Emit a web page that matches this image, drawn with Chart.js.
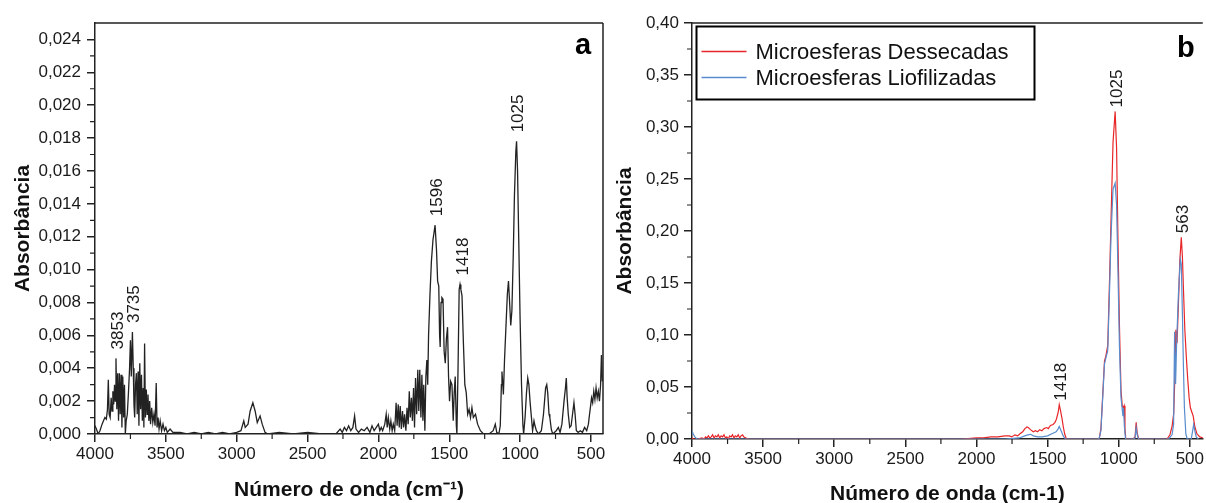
<!DOCTYPE html>
<html>
<head>
<meta charset="utf-8">
<script src="https://cdn.jsdelivr.net/npm/chart.js@4.4.1/dist/chart.umd.min.js"></script>
<style>
  html, body { margin: 0; padding: 0; background: #fff; }
  body { width: 1206px; height: 503px; position: relative; overflow: hidden; }
  #chartA { position: absolute; left: 0; top: 0; }
  #chartB { position: absolute; left: 605px; top: 0; }
</style>
</head>
<body>
<canvas id="chartA" width="615" height="503"></canvas>
<canvas id="chartB" width="601" height="503"></canvas>
<script>
// ---- data ----
// panel a: wavenumber (cm-1), absorbance
const spectrumA = [
  [4000,0.0005],[3990,0.0003],[3978,0],[3965,0.0002],[3950,0.0006],[3940,0.0008],[3930,0.0010],[3920,0.0009],
  [3912,0.0015],[3906,0.0033],[3900,0.0012],[3893,0.0010],[3886,0.0022],[3880,0.0014],[3874,0.0026],[3868,0.0018],
  [3862,0.0030],[3857,0.0020],[3852,0.0046],[3846,0.0015],[3840,0.0037],[3834,0.0008],[3828,0.0037],[3822,0.0012],
  [3816,0.0036],[3810,0.0004],[3804,0.0035],[3798,0.0010],[3792,0.0030],[3786,0],[3780,0.0008],[3772,0.0012],
  [3764,0.0025],[3756,0.0040],[3750,0.0057],[3744,0.0035],[3736,0.0062],[3730,0.0040],[3725,0.0018],[3720,0.0010],
  [3714,0.0030],[3708,0.0037],[3702,0.0012],[3696,0.0038],[3690,0.0005],[3684,0.0043],[3678,0.0015],[3672,0.0036],
  [3666,0.0008],[3660,0.0028],[3655,0.0004],[3650,0.0055],[3644,0.0010],[3638,0.0027],[3632,0.0012],[3626,0.0024],
  [3620,0.0008],[3614,0.0020],[3608,0.0006],[3600,0.0016],[3592,0.0007],[3584,0.0012],[3576,0.0005],[3568,0.0031],
  [3562,0.0004],[3555,0.0010],[3548,0.0003],[3540,0.0008],[3530,0.0002],[3520,0.0006],[3510,0.0002],[3500,0.0004],
  [3490,0.0001],[3470,0.0003],[3450,0.0001],[3400,0.0001],[3350,0],[3300,0.0001],[3250,0],[3200,0.0001],
  [3150,0],[3100,0.0001],[3050,0],[3000,0.0001],[2970,0.0002],[2950,0.0008],[2940,0.0004],[2920,0.0006],
  [2905,0.0014],[2886,0.0019],[2870,0.0014],[2855,0.0007],[2845,0.0009],[2835,0.0011],[2820,0.0006],[2800,0.0001],
  [2780,0],[2700,0.0001],[2600,0],[2500,0.0001],[2400,0],[2300,0],[2270,0.0003],[2255,0.0001],
  [2240,0.0004],[2225,0.0002],[2210,0.0005],[2195,0.0002],[2180,0.0004],[2168,0.0011],[2158,0.0003],[2140,0.0001],
  [2120,0.0003],[2100,0.0002],[2080,0.0004],[2060,0.0001],[2045,0.0005],[2030,0.0002],[2015,0.0004],[2000,0.0006],
  [1990,0.0002],[1980,0.0004],[1970,0.0002],[1955,0.0006],[1945,0.0012],[1938,0.0004],[1930,0.0010],[1920,0.0003],
  [1912,0.0008],[1903,0.0002],[1895,0.0006],[1885,0.0002],[1875,0.0019],[1868,0.0005],[1860,0.0018],[1853,0.0004],
  [1846,0.0017],[1838,0.0003],[1830,0.0014],[1822,0.0004],[1815,0.0012],[1806,0.0002],[1798,0.0016],[1790,0.0006],
  [1782,0.0026],[1775,0.0010],[1767,0.0022],[1760,0.0008],[1752,0.0028],[1745,0.0004],[1738,0.0034],[1730,0.0012],
  [1722,0.0039],[1715,0.0014],[1708,0.0039],[1700,0.0010],[1693,0.0036],[1686,0.0008],[1680,0.0030],[1672,0.0002],
  [1665,0.0035],[1658,0.0045],[1652,0.0030],[1646,0.0060],[1636,0.0085],[1626,0.0105],[1615,0.0118],[1600,0.0127],
  [1590,0.0112],[1582,0.0093],[1574,0.0090],[1568,0.0060],[1564,0.0053],[1558,0.0080],[1552,0.0083],[1544,0.0082],
  [1536,0.0050],[1528,0.0043],[1520,0.0058],[1512,0.0065],[1505,0.0035],[1498,0.0020],[1490,0.0032],[1481,0.0030],
  [1472,0.0008],[1465,0.0025],[1458,0.0035],[1450,0.0005],[1446,0],[1438,0.0040],[1430,0.0088],[1424,0.0091],
  [1418,0.0088],[1410,0.0084],[1400,0.0055],[1390,0.0030],[1380,0.0025],[1370,0.0012],[1360,0.0015],[1350,0.0010],
  [1340,0.0016],[1330,0.0010],[1315,0.0012],[1300,0.0006],[1280,0.0002],[1258,0],[1220,0],[1190,0.0002],
  [1175,0.0006],[1165,0.0001],[1150,0],[1140,0.0005],[1132,0.0030],[1128,0.0038],[1118,0.0024],[1110,0.0045],
  [1100,0.0065],[1090,0.0085],[1082,0.0093],[1074,0.0080],[1066,0.0066],[1058,0.0075],[1048,0.0110],[1040,0.0145],
  [1030,0.0172],[1025,0.0178],[1018,0.0160],[1010,0.0120],[1000,0.0070],[990,0.0030],[980,0.0005],[975,0],
  [965,0.0010],[955,0.0025],[946,0.0034],[938,0.0030],[930,0.0020],[922,0.0012],[912,0.0002],[902,0.0008],
  [895,0.0005],[885,0.0002],[870,0],[850,0.0002],[835,0.0012],[820,0.0028],[812,0.0030],[805,0.0025],
  [796,0.0012],[790,0.0010],[780,0.0003],[770,0],[745,0.0002],[730,0.0004],[718,0.0001],[705,0.0006],
  [690,0.0020],[680,0.0028],[674,0.0034],[668,0.0022],[660,0.0012],[650,0.0004],[640,0.0005],[630,0.0012],
  [620,0.0019],[612,0.0012],[603,0.0002],[590,0.0001],[575,0.0002],[560,0.0001],[545,0.0004],[530,0.0002],
  [518,0.0006],[510,0.0012],[504,0.0016],[496,0.0022],[488,0.0019],[480,0.0026],[472,0.0021],[464,0.0028],
  [456,0.0022],[448,0.0026],[440,0.0020],[432,0.0030],[426,0.0048],[420,0.0032]
];
const peaksA = [3853, 3735, 1596, 1418, 1025];
const xTicksA = [4000, 3500, 3000, 2500, 2000, 1500, 1000, 500];
const yTicksA = [0, 0.002, 0.004, 0.006, 0.008, 0.010, 0.012, 0.014, 0.016, 0.018, 0.020, 0.022, 0.024];

// panel b
const labelsB = ['Microesferas Dessecadas', 'Microesferas Liofilizadas'];
const dessecadas = [
  [4000,0.001],[3990,0],[3960,0],[3930,0.001],[3915,0],[3905,0.002],[3895,0.001],[3885,0.003],[3875,0.001],
  [3865,0.002],[3855,0.004],[3845,0.001],[3835,0.003],[3825,0.002],[3815,0.004],[3805,0.001],[3795,0.003],
  [3785,0.002],[3775,0.004],[3765,0.001],[3755,0.002],[3745,0],[3735,0.003],[3725,0.002],[3715,0.004],
  [3705,0.001],[3695,0.003],[3685,0.002],[3675,0.004],[3665,0.001],[3655,0.003],[3645,0.004],[3635,0.002],
  [3620,0.001],[3600,0],[3000,0],[2500,0],[2100,0],[2000,0.001],[1950,0.001],[1900,0.002],[1850,0.002],
  [1800,0.003],[1770,0.003],[1752,0.002],[1730,0.004],[1710,0.003],[1694,0.005],[1675,0.007],[1659,0.010],
  [1645,0.0115],[1636,0.011],[1620,0.009],[1601,0.007],[1585,0.008],[1570,0.007],[1555,0.009],[1540,0.008],
  [1525,0.010],[1508,0.011],[1495,0.010],[1480,0.013],[1461,0.014],[1448,0.016],[1438,0.019],[1425,0.026],
  [1418,0.033],[1410,0.028],[1399,0.020],[1390,0.012],[1380,0.005],[1368,0],[1145,0],[1136,0.001],
  [1125,0.010],[1117,0.030],[1100,0.075],[1090,0.080],[1077,0.090],[1065,0.150],[1054,0.210],[1040,0.285],
  [1025,0.315],[1015,0.280],[1005,0.190],[995,0.110],[984,0.047],[975,0.032],[968,0.030],[962,0.032],
  [956,0.010],[950,0],[900,0],[885,0.002],[877,0.016],[870,0.006],[860,0],[660,0],[640,0.004],
  [625,0.012],[613,0.025],[605,0.060],[598,0.105],[590,0.092],[580,0.130],[570,0.172],[560,0.194],
  [552,0.175],[545,0.145],[535,0.105],[525,0.080],[515,0.058],[505,0.040],[496,0.030],[486,0.026],
  [476,0.022],[465,0.012],[450,0.005],[430,0.002],[405,0.001]
];
const liofilizadas = [
  [4000,0.008],[3992,0.005],[3980,0.002],[3965,0],[3500,0],[2500,0],[1800,0],[1700,0.001],[1660,0.003],
  [1640,0.004],[1620,0.0045],[1600,0.003],[1570,0.002],[1540,0.002],[1500,0.003],[1470,0.005],[1440,0.007],
  [1425,0.010],[1418,0.012],[1405,0.008],[1390,0.003],[1375,0],[1145,0],[1136,0.001],[1125,0.008],
  [1117,0.028],[1100,0.072],[1090,0.078],[1077,0.085],[1065,0.140],[1054,0.195],[1040,0.240],[1025,0.246],
  [1015,0.225],[1005,0.160],[995,0.090],[984,0.040],[975,0.028],[970,0.022],[966,0.030],[960,0.012],
  [952,0],[900,0],[885,0.001],[877,0.011],[870,0.004],[860,0],[650,0],[625,0.004],[614,0.014],
  [607,0.103],[600,0.053],[593,0.091],[580,0.140],[567,0.173],[560,0.168],[552,0.120],[545,0.070],
  [538,0.030],[528,0.005],[518,0],[490,0],[480,0.008],[473,0.014],[465,0.008],[455,0.002],[440,0]
];
const peaksB = [1418, 1025, 563];
const xTicksB = [4000, 3500, 3000, 2500, 2000, 1500, 1000, 500];
const yTicksB = [0, 0.05, 0.10, 0.15, 0.20, 0.25, 0.30, 0.35, 0.40];

// ---- helpers ----
Chart.defaults.font.family = "'Liberation Sans', Arial, sans-serif";
Chart.defaults.color = '#1a1a1a';

const toPoints = arr => arr.map(p => ({ x: p[0], y: p[1] }));
const comma = (v, d) => Number(v).toFixed(d).replace('.', ',');

// frame (top/right borders) and minor ticks
const framePlugin = {
  id: 'frame',
  afterDraw(chart, args, opts) {
    const { ctx, chartArea: a } = chart;
    ctx.save();
    ctx.strokeStyle = '#222';
    ctx.lineWidth = 1.5;
    ctx.beginPath();
    ctx.moveTo(a.left, a.top); ctx.lineTo(a.right, a.top);
    if (opts.right) { ctx.moveTo(a.right, a.top); ctx.lineTo(a.right, a.bottom); }
    ctx.stroke();

    // minor ticks halfway between the major ones
    ctx.lineWidth = 1.2;
    ctx.beginPath();
    ['x', 'y'].forEach(id => {
      const s = chart.scales[id];
      const t = s.ticks.map(k => k.value);
      for (let i = 0; i < t.length - 1; i++) {
        const m = (t[i] + t[i + 1]) / 2;
        const p = s.getPixelForValue(m);
        if (id === 'x') { ctx.moveTo(p, a.bottom); ctx.lineTo(p, a.bottom + 5); }
        else { ctx.moveTo(a.left, p); ctx.lineTo(a.left - 5, p); }
      }
    });
    ctx.stroke();
    ctx.restore();
  }
};

// rotated peak labels over the highest point near each wavenumber
const peakPlugin = {
  id: 'peaks',
  afterDatasetsDraw(chart, args, opts) {
    const { ctx } = chart;
    const xs = chart.scales.x, ys = chart.scales.y;
    const data = chart.data.datasets[0].data;
    ctx.save();
    ctx.font = "17px 'Liberation Sans', Arial, sans-serif";
    ctx.fillStyle = '#1a1a1a';
    opts.values.forEach(w => {
      let top = 0;
      data.forEach(p => { if (Math.abs(p.x - w) <= 12 && p.y > top) top = p.y; });
      ctx.save();
      ctx.translate(xs.getPixelForValue(w) + 2, ys.getPixelForValue(top) - opts.gap);
      ctx.rotate(-Math.PI / 2);
      ctx.textAlign = 'left';
      ctx.textBaseline = 'middle';
      ctx.fillText(String(w), 0, 0);
      ctx.restore();
    });
    ctx.restore();
  }
};

// panel letter
const letterPlugin = {
  id: 'letter',
  afterDraw(chart, args, opts) {
    const { ctx, chartArea: a } = chart;
    ctx.save();
    ctx.font = "bold 29px 'Liberation Sans', Arial, sans-serif";
    ctx.fillStyle = '#000';
    ctx.textAlign = 'center';
    ctx.textBaseline = 'alphabetic';
    ctx.fillText(opts.text, a.right + opts.dx, a.top + opts.dy);
    ctx.restore();
  }
};

// boxed legend inside the plot
const boxLegendPlugin = {
  id: 'boxLegend',
  afterDraw(chart, args, opts) {
    if (!opts.show) return;
    const { ctx, chartArea: a } = chart;
    const x = a.left + 4.5, y = a.top + 3.5, w = 338, h = 73;
    ctx.save();
    ctx.fillStyle = '#fff';
    ctx.fillRect(x, y, w, h);
    ctx.strokeStyle = '#000';
    ctx.lineWidth = 2;
    ctx.strokeRect(x, y, w, h);
    ctx.font = "22px 'Liberation Sans', Arial, sans-serif";
    ctx.textBaseline = 'middle';
    chart.data.datasets.forEach((ds, i) => {
      const ly = y + 25 + i * 26;
      ctx.strokeStyle = ds.borderColor;
      ctx.lineWidth = 1.5;
      ctx.beginPath(); ctx.moveTo(x + 5, ly); ctx.lineTo(x + 50, ly); ctx.stroke();
      ctx.fillStyle = '#111';
      ctx.fillText(ds.label, x + 59, ly + 1);
    });
    ctx.restore();
  }
};

function axisOptions(cfg) {
  return {
    x: {
      type: 'linear', reverse: true, min: cfg.xMin, max: 4000,
      afterBuildTicks: s => { s.ticks = cfg.xTicks.map(v => ({ value: v })); },
      afterFit: s => { s.height = cfg.xHeight; },
      ticks: { font: { size: 17 }, padding: 2, maxRotation: 0, autoSkip: false, callback: v => String(v) },
      grid: { drawOnChartArea: false, tickLength: 8, color: '#222', lineWidth: 1.5 },
      border: { display: true, color: '#222', width: 1.5 },
      title: { display: true, text: cfg.xTitle, color: '#111',
               font: { size: 21, weight: 'bold', lineHeight: 0.8 }, padding: { top: 0, bottom: cfg.xTitlePad } }
    },
    y: {
      type: 'linear', min: 0, max: cfg.yMax,
      afterBuildTicks: s => { s.ticks = cfg.yTicks.map(v => ({ value: v })); },
      afterFit: s => { s.width = cfg.yWidth; },
      ticks: { font: { size: 17 }, padding: cfg.yPad, autoSkip: false, callback: v => comma(v, cfg.yDec) },
      grid: { drawOnChartArea: false, tickLength: 8, color: '#222', lineWidth: 1.5 },
      border: { display: true, color: '#222', width: 1.5 },
      title: { display: true, text: 'Absorbância', color: '#111',
               font: { size: 21, weight: 'bold', lineHeight: 0.8 }, padding: { top: cfg.yTitlePad, bottom: 0 } }
    }
  };
}

// ---- panel a ----
new Chart(document.getElementById('chartA'), {
  type: 'line',
  data: {
    datasets: [{
      label: 'a', data: toPoints(spectrumA),
      borderColor: '#222', borderWidth: 1.3, pointRadius: 0, tension: 0
    }]
  },
  options: {
    responsive: false, animation: false, events: [],
    layout: { padding: { left: 0, right: 12, top: 23, bottom: 0 } },
    scales: axisOptions({ xMin: 415, xTicks: xTicksA, xHeight: 69, xTitle: 'Número de onda (cm⁻¹)', xTitlePad: 4,
                          yMax: 0.025, yTicks: yTicksA, yWidth: 95, yPad: 6, yDec: 3, yTitlePad: 15 }),
    plugins: {
      legend: { display: false }, tooltip: { enabled: false },
      frame: { right: true },
      peaks: { values: peaksA, gap: 9 },
      letter: { text: 'a', dx: -20, dy: 31 },
      boxLegend: { show: false }
    }
  },
  plugins: [framePlugin, peakPlugin, letterPlugin, boxLegendPlugin]
});

// ---- panel b ----
new Chart(document.getElementById('chartB'), {
  type: 'line',
  data: {
    datasets: [
      { label: labelsB[0], data: toPoints(dessecadas), borderColor: 'rgb(232,38,40)',
        borderWidth: 1.2, pointRadius: 0, tension: 0, order: 1 },
      { label: labelsB[1], data: toPoints(liofilizadas), borderColor: 'rgb(88,140,205)',
        borderWidth: 1.2, pointRadius: 0, tension: 0, order: 0 }
    ]
  },
  options: {
    responsive: false, animation: false, events: [],
    layout: { padding: { left: 0, right: 0, top: 23, bottom: 0 } },
    scales: axisOptions({ xMin: 409, xTicks: xTicksB, xHeight: 64, xTitle: 'Número de onda (cm-1)', xTitlePad: 0,
                          yMax: 0.40, yTicks: yTicksB, yWidth: 87, yPad: 5, yDec: 2, yTitlePad: 12 }),
    plugins: {
      legend: { display: false }, tooltip: { enabled: false },
      frame: { right: false },
      peaks: { values: peaksB, gap: 4 },
      letter: { text: 'b', dx: -17, dy: 34 },
      boxLegend: { show: true }
    }
  },
  plugins: [framePlugin, peakPlugin, letterPlugin, boxLegendPlugin]
});
</script>
</body>
</html>
